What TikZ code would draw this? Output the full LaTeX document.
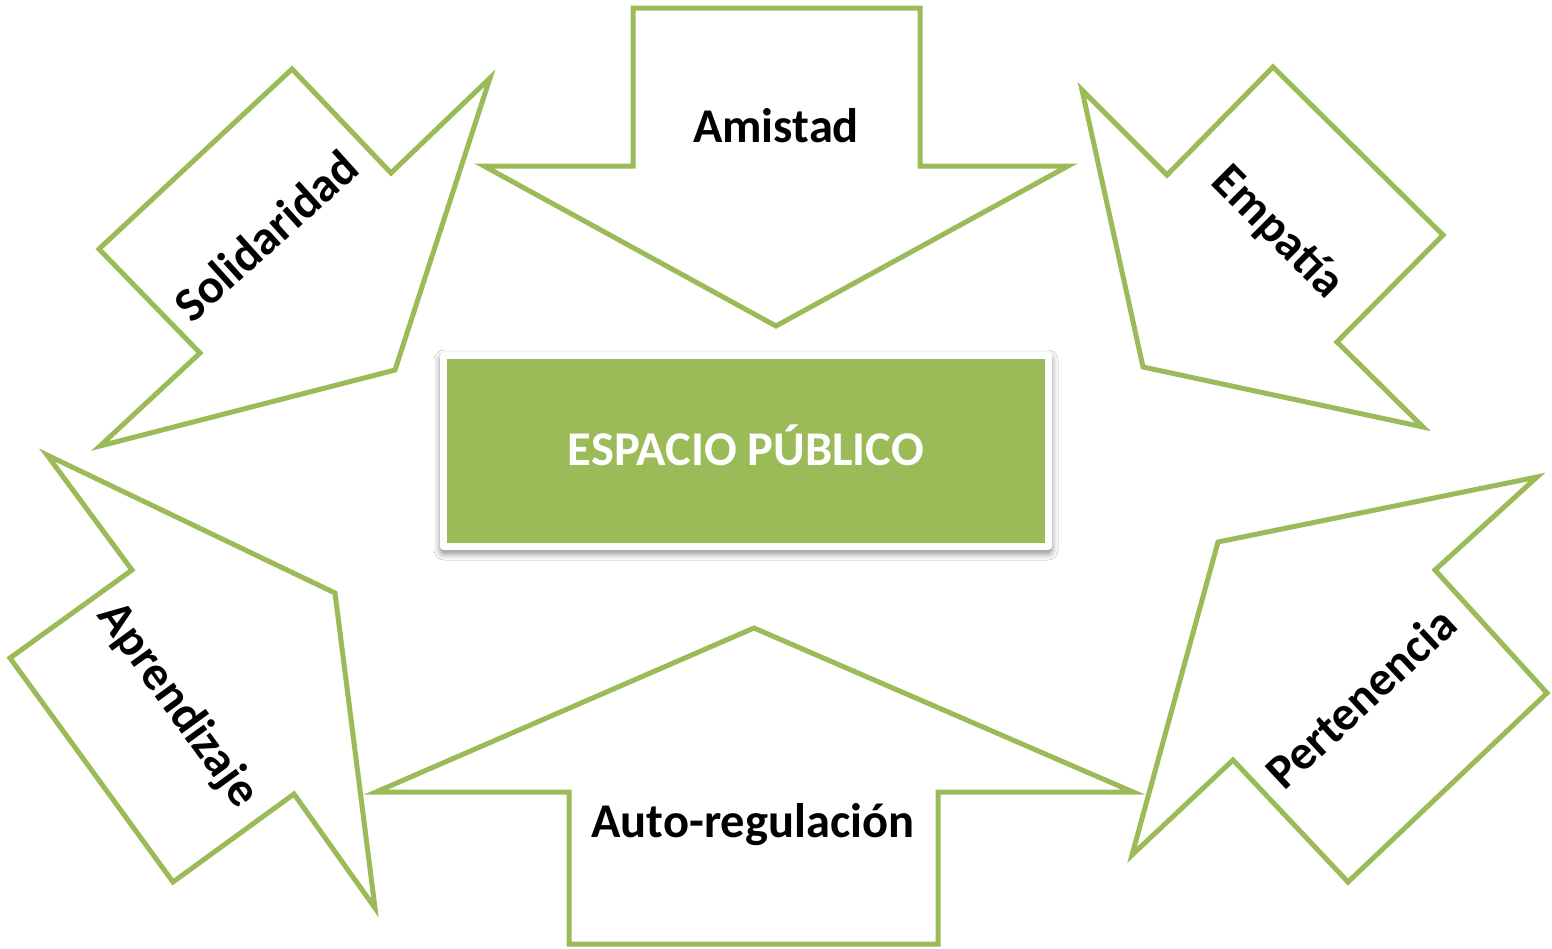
\documentclass[tikz,border=0pt]{standalone}
\usepackage{fontspec}
\setmainfont{Carlito}
\usetikzlibrary{shadows.blur}
\definecolor{olivegreen}{HTML}{9BBB59}
\begin{document}
\begin{tikzpicture}[x=1pt,y=-1pt,
  arrowshape/.style={draw=olivegreen, line width=5pt, fill=white, line join=miter},
  lbl/.style={font=\fontsize{48.5}{58}\selectfont\bfseries, text=black, inner sep=0pt}]
\fill[white] (0,0) rectangle (1552,948);
\useasboundingbox (0,0) rectangle (1552,948);

% Amistad (down)
\draw[arrowshape] (633,8) -- (920,8) -- (920,166) -- (1068,166) -- (776,326) -- (484,166) -- (633,166) -- cycle;
% Solidaridad
\draw[arrowshape] (292,69) -- (391,173) -- (490,78) -- (395,370) -- (100,446) -- (200,353) -- (99,249) -- cycle;
% Empatia
\draw[arrowshape] (1273,67) -- (1443,235) -- (1337,342) -- (1423,427) -- (1143,367) -- (1082,90) -- (1167,175) -- cycle;
% Aprendizaje
\draw[arrowshape] (47,455) -- (335,593) -- (375,908) -- (294,794) -- (173,882) -- (10,658) -- (132,570) -- cycle;
% Pertenencia
\draw[arrowshape] (1537,477) -- (1435,570) -- (1547,693) -- (1348,882) -- (1233,760) -- (1132,855) -- (1218,542) -- cycle;
% Auto-regulacion (up)
\draw[arrowshape] (754,628) -- (1133,792) -- (938,792) -- (938,944) -- (569,944) -- (569,792) -- (376,792) -- cycle;

% centre box
\node[fill=white, rounded corners=4pt, minimum width=612pt, minimum height=198pt, inner sep=0pt,
  blur shadow={shadow xshift=0pt, shadow yshift=-4pt, shadow blur radius=6pt, shadow opacity=45}] (frame) at (746,451) {};
\node[fill=olivegreen, minimum width=598pt, minimum height=184pt, inner sep=0pt] (centre) at (746,451) {};
\node[lbl, text=white, anchor=base] (esp) at (746,465) {ESPACIO PÚBLICO};

% labels
\node[lbl, anchor=base] (amistad) at (776,142) {Amistad};
\node[lbl, anchor=base] (auto) at (753,837) {Auto-regulación};
\node[lbl, anchor=base, rotate=42] (sol) at (277,248) {Solidaridad};
\node[lbl, anchor=base, rotate=-45] (emp) at (1268,242) {Empatía};
\node[lbl, anchor=base, rotate=-54] (apr) at (167,713) {Aprendizaje};
\node[lbl, anchor=base, rotate=43] (per) at (1372,710) {Pertenencia};
\end{tikzpicture}
\end{document}
